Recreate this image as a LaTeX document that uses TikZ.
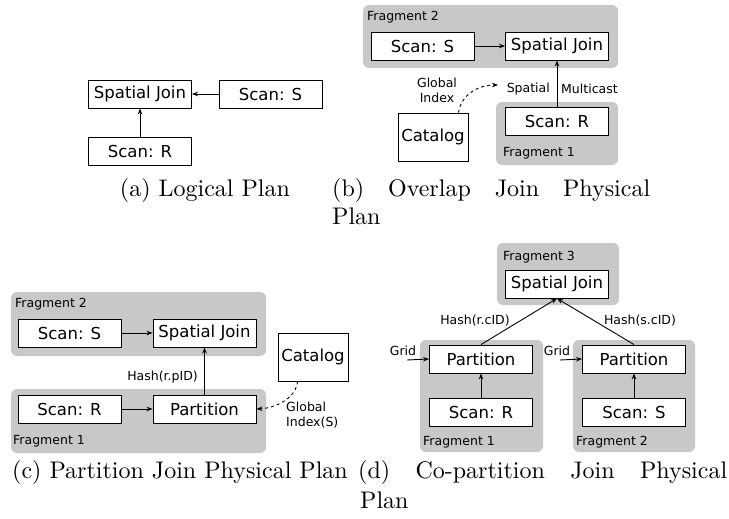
\documentclass[tikz,border=0pt]{standalone}
\usepackage{fontspec}
\newfontfamily\boxfont{DejaVu Sans}
\newfontfamily\capfont{lmroman10-regular}[Extension=.otf]
\usetikzlibrary{arrows.meta}
\definecolor{fraggray}{RGB}{200,200,200}
\begin{document}
\begin{tikzpicture}[x=1pt,y=-1pt,
  opbox/.style={draw,fill=white,line width=0.9pt,minimum width=103pt,minimum height=28pt,inner sep=0pt,font=\boxfont\fontsize{16.5}{20}\selectfont},
  catbox/.style={opbox,minimum width=70pt,minimum height=48pt},
  frag/.style={fill=fraggray,rounded corners=6pt},
  lbl/.style={font=\boxfont\fontsize{12.5}{15}\selectfont,inner sep=0pt},
  captext/.style={font=\capfont\fontsize{24}{29}\selectfont,inner sep=0pt},
  arr/.style={-{Stealth[length=6pt,width=4.5pt]},line width=0.9pt},
  darr/.style={arr,dash pattern=on 3pt off 3pt}]
\useasboundingbox (0,0) rectangle (729,519);

% ---------- (a) ----------
\node[opbox] (sja) at (140,94) {Spatial Join};
\node[opbox] (sa) at (270.5,94) {Scan: S};
\node[opbox] (ra) at (140,151) {Scan: R};
\draw[arr] (sa) -- (sja);
\draw[arr] (ra) -- (sja);
\node[captext,anchor=base] (capa) at (205,196) {(a) Logical Plan};

% ---------- (b) ----------
\path[frag] (363,5) rectangle (618,68);
\path[frag] (496,102) rectangle (618,165);
\node[lbl,anchor=west] (fb2) at (367,17) {Fragment 2};
\node[lbl,anchor=west] (fb1) at (503,153) {Fragment 1};
\node[opbox] (sb) at (422.5,46) {Scan: S};
\node[opbox] (sjb) at (557,46) {Spatial Join};
\node[opbox] (rb) at (557,121) {Scan: R};
\node[catbox] (catb) at (433,137) {Catalog};
\draw[arr] (sb) -- (sjb);
\draw[arr] (rb) -- (sjb);
\node[lbl,anchor=east] (spb) at (550,89) {Spatial};
\node[lbl,anchor=west] (mcb) at (561,89) {Multicast};
\node[lbl,align=center] (gib) at (437,90) {Global\\Index};
\coordinate (gbend) at (498,85);
\draw[darr] ([xshift=-10pt]catb.north east) .. controls (461,95) and (478,85) .. (gbend);
\node[captext,anchor=base west] (capb1) at (332,196) {\makebox[318pt][s]{(b) Overlap Join Physical}};
\node[captext,anchor=base west] (capb2) at (332,224) {Plan};

% ---------- (c) ----------
\path[frag] (11,292) rectangle (266,356);
\path[frag] (11,389) rectangle (266,453);
\node[lbl,anchor=west] (fc2) at (15,304) {Fragment 2};
\node[lbl,anchor=west] (fc1) at (13,441) {Fragment 1};
\node[opbox] (sc) at (69.5,333) {Scan: S};
\node[opbox] (sjc) at (204.5,333) {Spatial Join};
\node[opbox] (rc) at (69.5,409) {Scan: R};
\node[opbox] (pc) at (204.5,409) {Partition};
\node[catbox] (catc) at (313,357) {Catalog};
\draw[arr] (sc) -- (sjc);
\draw[arr] (rc) -- (pc);
\draw[arr] (pc) -- (sjc);
\node[lbl,anchor=east] (hc) at (198,377) {Hash(r.pID)};
\node[lbl,align=left,anchor=north west] (gic) at (286,402) {Global\\Index(S)};
\draw[darr] ([xshift=20pt]catc.south west) .. controls (296,398) and (276,408) .. (pc.east);
\node[captext,anchor=base] (capc) at (180,478) {(c) Partition Join Physical Plan};

% ---------- (d) ----------
\path[frag] (497,243) rectangle (619,305);
\path[frag] (420,340) rectangle (543,452);
\path[frag] (573,340) rectangle (695,452);
\node[lbl,anchor=west] (fd3) at (503,257) {Fragment 3};
\node[lbl,anchor=west] (fd1) at (423,442) {Fragment 1};
\node[lbl,anchor=west] (fd2) at (576,442) {Fragment 2};
\node[opbox] (sjd) at (557,284) {Spatial Join};
\node[opbox] (p1) at (481,359) {Partition};
\node[opbox] (r1) at (481,412.5) {Scan: R};
\node[opbox] (p2) at (634,359) {Partition};
\node[opbox] (s2) at (634,412.5) {Scan: S};
\draw[arr] (r1) -- (p1);
\draw[arr] (s2) -- (p2);
\draw[arr] (p1.north) -- (sjd.south);
\draw[arr] (p2.north) -- (sjd.south);
\node[lbl] (h1) at (475,321) {Hash(r.cID)};
\node[lbl] (h2) at (640,321) {Hash(s.cID)};
\coordinate (g1) at (407,360);
\coordinate (g2) at (560,360);
\draw[arr] (g1) -- (p1.west);
\draw[arr] (g2) -- (p2.west);
\node[lbl] (gl1) at (403,351) {Grid};
\node[lbl] (gl2) at (557,351) {Grid};
\node[captext,anchor=base west] (capd1) at (358,478) {\makebox[369pt][s]{(d) Co-partition Join Physical}};
\node[captext,anchor=base west] (capd2) at (360,508) {Plan};
\end{tikzpicture}
\end{document}
